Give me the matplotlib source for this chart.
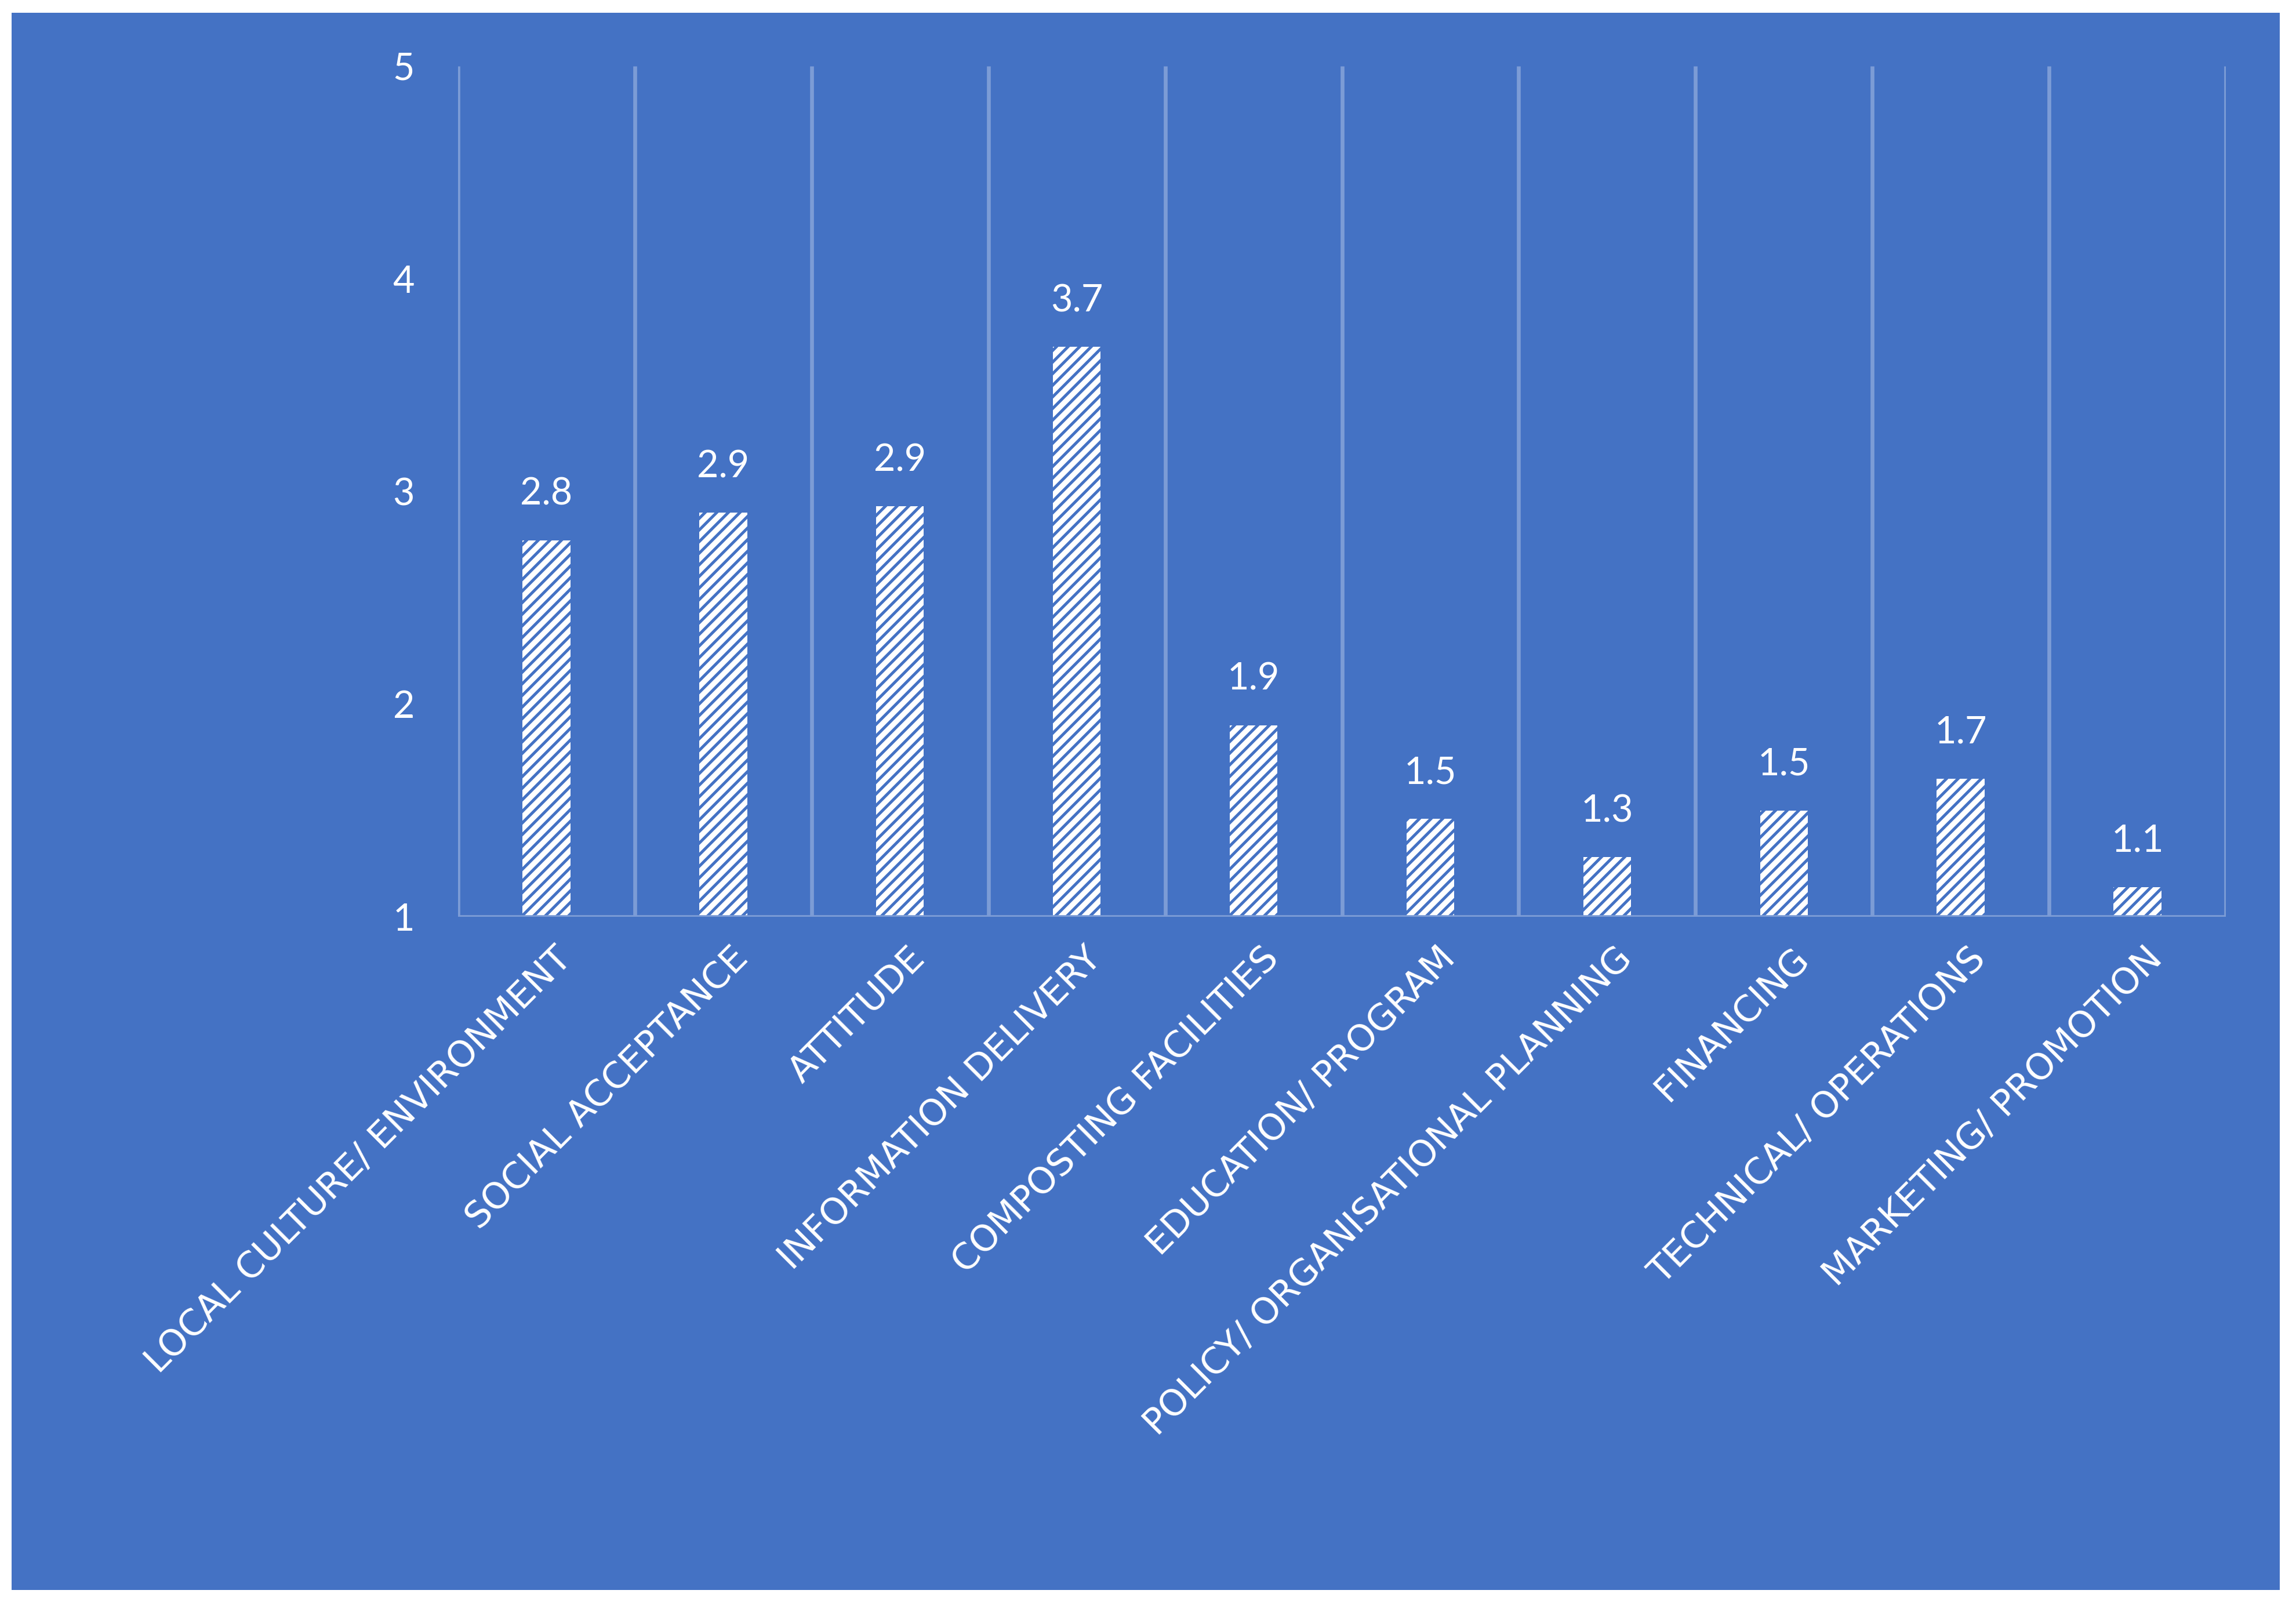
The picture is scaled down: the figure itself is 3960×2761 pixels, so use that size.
import matplotlib
matplotlib.use("Agg")
import matplotlib.pyplot as plt
from matplotlib.patches import Rectangle

categories = ["LOCAL CULTURE/ ENVIRONMENT", "SOCIAL ACCEPTANCE", "ATTITUDE",
              "INFORMATION DELIVERY", "COMPOSTING FACILITIES", "EDUCATION/ PROGRAM",
              "POLICY/ ORGANISATIONAL PLANNING", "FINANCING", "TECHNICAL/ OPERATIONS",
              "MARKETING/ PROMOTION"]
values = [2.77, 2.90, 2.93, 3.68, 1.90, 1.46, 1.28, 1.50, 1.65, 1.14]
value_labels = ["2.8", "2.9", "2.9", "3.7", "1.9", "1.5", "1.3", "1.5", "1.7", "1.1"]
yticks = [1, 2, 3, 4, 5]

BG = "#4472C4"
GRID = "#7C9CD6"

plt.rcParams['hatch.linewidth'] = 1.2
plt.rcParams['font.family'] = ['Lato', 'DejaVu Sans']

fig = plt.figure(figsize=(13.2, 2761/300), dpi=300, facecolor="white")
bg = Rectangle((20/3960, 19/2761), (3932-20)/3960, (2739-19)/2761,
               transform=fig.transFigure, facecolor=BG, edgecolor="none", zorder=-10)
fig.add_artist(bg)

ax = fig.add_axes([790/3960, 1-1581/2761, (3839-790)/3960, (1581-114)/2761])
ax.set_zorder(1)
ax.set_facecolor("none")
x = list(range(len(categories)))
bars = ax.bar(x, [v - 1 for v in values], bottom=1, width=0.27, facecolor="white",
              edgecolor=BG, hatch="/////", linewidth=0, zorder=3)

for xi, v, lab in zip(x, values, value_labels):
    ax.annotate(lab, (xi, v), xytext=(0, 12), textcoords="offset points",
                ha="center", va="bottom", color="white", fontsize=15.5)

ax.set_xlim(-0.5, len(categories) - 0.5)
ax.set_ylim(1, 5)
for b in [i - 0.5 for i in range(len(categories) + 1)]:
    ax.plot([b, b], [1, 5], color=GRID, lw=1.6, zorder=1, solid_capstyle="butt")
ax.plot([-0.5, len(categories) - 0.5], [1, 1], color=GRID, lw=1.6, zorder=4, solid_capstyle="butt")

for s in ax.spines.values():
    s.set_visible(False)
ax.set_yticks(yticks)
ax.set_yticklabels([str(t) for t in yticks], color="white", fontsize=15.5)
ax.tick_params(axis="y", length=0, pad=18)
ax.set_xticks(x)
ax.set_xticklabels([])
ax.tick_params(axis="x", length=0)

for xi, c in zip(x, categories):
    ax.annotate(c, (xi, 1), xytext=(3, -10), textcoords="offset points",
                rotation=45, rotation_mode="anchor", ha="right", va="top",
                color="white", fontsize=15, family=['DejaVu Sans'])

fig.savefig("out.png", dpi=300, facecolor="white")
